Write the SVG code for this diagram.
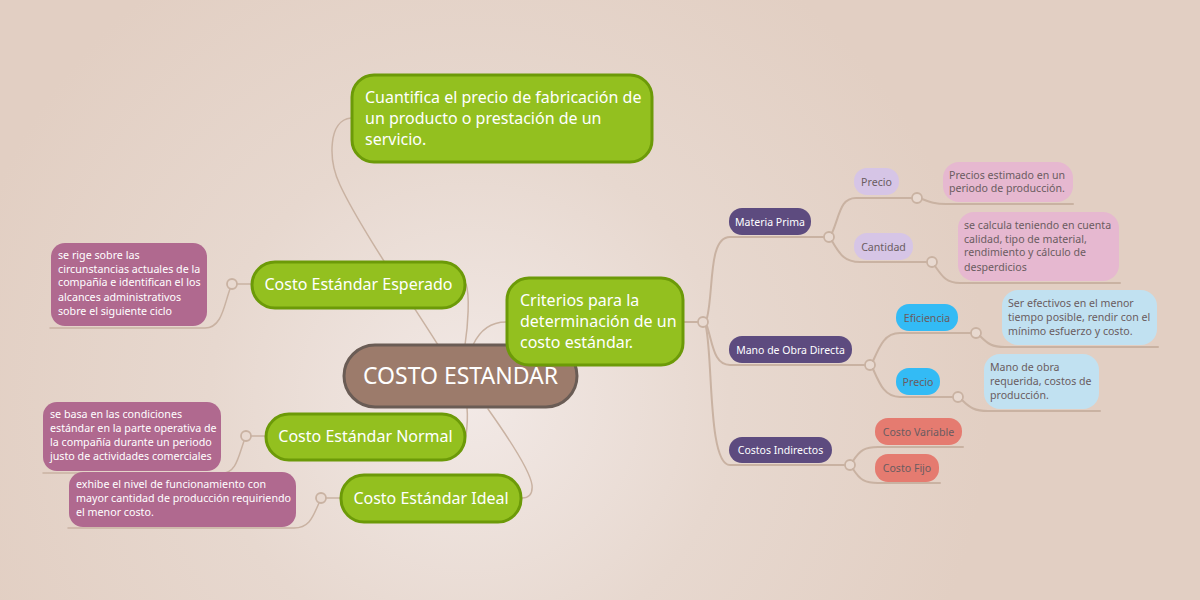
<svg xmlns="http://www.w3.org/2000/svg" width="1200" height="600" viewBox="0 0 1200 600">
<defs>
<radialGradient id="bg" cx="470" cy="400" r="520" gradientUnits="userSpaceOnUse">
<stop offset="0" stop-color="#f2e9e6"/>
<stop offset="0.5" stop-color="#e7d8cf"/>
<stop offset="1" stop-color="#e2cfc3"/>
</radialGradient>
<style>
text{font-family:"Noto Sans","Liberation Sans",sans-serif;}
.g rect{fill:#93c01f;stroke:#6c9a08;stroke-width:3;}
.g text{fill:#ffffff;font-size:16px;}
.c rect{fill:#9c7b6b;stroke:#6a5c55;stroke-width:3;}
.c text{fill:#ffffff;font-size:23px;}
.pn rect{fill:#b0698f;}
.pn text{fill:#ffffff;font-size:10.7px;}
.dp rect{fill:#5d4b7f;}
.dp text{fill:#ffffff;font-size:10.5px;}
.lp rect{fill:#d6c5e6;}
.lk rect{fill:#e6b8d0;}
.bb rect{fill:#33bbf5;}
.lb rect{fill:#c1e1f1;}
.sl rect{fill:#e57b70;}
.lt text{fill:#6a5c60;font-size:10.6px;}
.conn path{fill:none;stroke:#c9b2a2;stroke-width:2;stroke-linecap:round;}
.conn path.thin{stroke-width:1.5;}
.conn circle{fill:#e8d9d0;stroke:#c9b2a2;stroke-width:1.8;}
</style>
</defs>
<rect width="1200" height="600" fill="url(#bg)"/>

<g id="connectors" class="conn">
<path class="thin" d="M438,345 C415,308 360,228 340,185 C328,160 328,120 351,118"/>
<path class="thin" d="M466,284 C470,295 468,325 465,345"/>
<path class="thin" d="M473,345 C480,330 490,322 506,322"/>
<path class="thin" d="M467,408 C468,418 467,428 466,436"/>
<path class="thin" d="M488,409 C510,440 530,470 532,485 C533,495 528,498 522,498"/>
<path class="thin" d="M251,284 L237,284"/>
<circle cx="232" cy="284" r="5"/>
<path class="thin" d="M230,289 C224,305 222,328 205,328 L50,328"/>
<path class="thin" d="M265,436 L251,436"/>
<circle cx="246" cy="436" r="5"/>
<path class="thin" d="M244,441 C238,458 236,473 222,473 L43,473"/>
<path class="thin" d="M340,498 L326,498"/>
<circle cx="321" cy="498" r="5"/>
<path class="thin" d="M319,503 C313,516 310,528 294,528 L68,528"/>
<path d="M684,322 L698,322"/>
<circle cx="703" cy="322" r="5"/>
<path d="M707,318 C714,290 708,237 730,237 L824,237"/>
<path d="M707,326 C713,345 714,365 730,365 L865,365"/>
<path d="M706,327 C713,360 708,465 730,465 L845,465"/>
<circle cx="829" cy="237" r="5"/>
<path d="M832,233 C840,215 840,198 856,198 L912,198"/>
<path d="M832,241 C840,255 845,262 860,262 L927,262"/>
<circle cx="917" cy="198" r="5"/>
<path d="M922,199 C930,202 935,204 946,204 L1073,204"/>
<circle cx="932" cy="262" r="5"/>
<path d="M935,266 C942,276 946,283 960,283 L1120,283"/>
<circle cx="870" cy="365" r="5"/>
<path d="M873,361 C880,345 885,333 900,333 L971,333"/>
<path d="M873,369 C880,385 885,397 900,397 L953,397"/>
<circle cx="976" cy="333" r="5"/>
<path d="M980,336 C988,344 992,347 1005,347 L1158,347"/>
<circle cx="958" cy="397" r="5"/>
<path d="M962,400 C970,408 975,411 988,411 L1100,411"/>
<circle cx="850" cy="465" r="5"/>
<path d="M853,461 C860,450 865,447 878,447 L963,447"/>
<path d="M853,469 C860,480 865,483 878,483 L940,483"/>
</g>

<g id="costo-estandar" class="c">
<rect x="344" y="345" width="233" height="62" rx="31"/>
<text x="460.5" y="384" text-anchor="middle">COSTO ESTANDAR</text>
</g>

<g id="cuantifica" class="g">
<rect x="352" y="75" width="300" height="87" rx="22"/>
<text x="365" y="103">Cuantifica el precio de fabricación de</text>
<text x="365" y="124">un producto o prestación de un</text>
<text x="365" y="145">servicio.</text>
</g>

<g id="criterios" class="g">
<rect x="507" y="278" width="176" height="87" rx="22"/>
<text x="520" y="306">Criterios para la</text>
<text x="520" y="327">determinación de un</text>
<text x="520" y="348">costo estándar.</text>
</g>

<g id="esperado" class="g">
<rect x="252" y="262" width="213" height="46" rx="23"/>
<text x="358.5" y="290" text-anchor="middle">Costo Estándar Esperado</text>
</g>

<g id="normal" class="g">
<rect x="266" y="414" width="199" height="46" rx="23"/>
<text x="365.5" y="442" text-anchor="middle">Costo Estándar Normal</text>
</g>

<g id="ideal" class="g">
<rect x="341" y="475" width="180" height="47" rx="23"/>
<text x="431" y="504" text-anchor="middle">Costo Estándar Ideal</text>
</g>

<g id="nota-esperado" class="pn">
<rect x="51" y="243" width="156" height="83" rx="14"/>
<text x="58" y="259">se rige sobre las</text>
<text x="58" y="273">circunstancias actuales de la</text>
<text x="58" y="286">compañía e identifican el los</text>
<text x="58" y="301">alcances administrativos</text>
<text x="58" y="315">sobre el siguiente ciclo</text>
</g>

<g id="nota-normal" class="pn">
<rect x="43" y="402" width="178" height="69" rx="14"/>
<text x="50" y="418">se basa en las condiciones</text>
<text x="50" y="432">estándar en la parte operativa de</text>
<text x="50" y="446">la compañía durante un periodo</text>
<text x="50" y="460">justo de actividades comerciales</text>
</g>

<g id="nota-ideal" class="pn">
<rect x="69" y="472" width="227" height="55" rx="14"/>
<text x="76" y="488">exhibe el nivel de funcionamiento con</text>
<text x="76" y="502">mayor cantidad de producción requiriendo</text>
<text x="76" y="516">el menor costo.</text>
</g>

<g id="materia-prima" class="dp">
<rect x="729" y="208" width="82" height="27" rx="13"/>
<text x="770" y="225.5" text-anchor="middle">Materia Prima</text>
</g>

<g id="mano-obra" class="dp">
<rect x="729" y="336" width="123" height="27" rx="13"/>
<text x="790.5" y="353.5" text-anchor="middle">Mano de Obra Directa</text>
</g>

<g id="costos-indirectos" class="dp">
<rect x="729" y="437" width="103" height="26" rx="13"/>
<text x="780.5" y="453.5" text-anchor="middle">Costos Indirectos</text>
</g>

<g id="precio-mp" class="lp lt">
<rect x="854" y="168" width="45" height="27" rx="13"/>
<text x="876.5" y="185.5" text-anchor="middle">Precio</text>
</g>

<g id="cantidad" class="lp lt">
<rect x="854" y="233" width="59" height="27" rx="13"/>
<text x="883.5" y="250.5" text-anchor="middle">Cantidad</text>
</g>

<g id="nota-precio-mp" class="lk lt">
<rect x="943" y="162" width="130" height="40" rx="16"/>
<text x="949" y="179">Precios estimado en un</text>
<text x="949" y="192">periodo de producción.</text>
</g>

<g id="nota-cantidad" class="lk lt">
<rect x="958" y="212" width="161" height="69" rx="16"/>
<text x="964" y="229">se calcula teniendo en cuenta</text>
<text x="964" y="243">calidad, tipo de material,</text>
<text x="964" y="256">rendimiento y cálculo de</text>
<text x="964" y="271">desperdicios</text>
</g>

<g id="eficiencia" class="bb lt">
<rect x="896" y="304" width="62" height="27" rx="13"/>
<text x="927" y="321.5" text-anchor="middle">Eficiencia</text>
</g>

<g id="precio-mo" class="bb lt">
<rect x="896" y="368" width="44" height="27" rx="13"/>
<text x="918" y="385.5" text-anchor="middle">Precio</text>
</g>

<g id="nota-eficiencia" class="lb lt">
<rect x="1002" y="290" width="155" height="55" rx="16"/>
<text x="1008" y="307">Ser efectivos en el menor</text>
<text x="1008" y="321">tiempo posible, rendir con el</text>
<text x="1008" y="335">mínimo esfuerzo y costo.</text>
</g>

<g id="nota-precio-mo" class="lb lt">
<rect x="984" y="354" width="115" height="55" rx="16"/>
<text x="990" y="371">Mano de obra</text>
<text x="990" y="385">requerida, costos de</text>
<text x="990" y="399">producción.</text>
</g>

<g id="costo-variable" class="sl lt">
<rect x="875" y="418" width="87" height="27" rx="13"/>
<text x="918.5" y="435.5" text-anchor="middle">Costo Variable</text>
</g>

<g id="costo-fijo" class="sl lt">
<rect x="875" y="454" width="64" height="28" rx="13"/>
<text x="907" y="472" text-anchor="middle">Costo Fijo</text>
</g>
</svg>
